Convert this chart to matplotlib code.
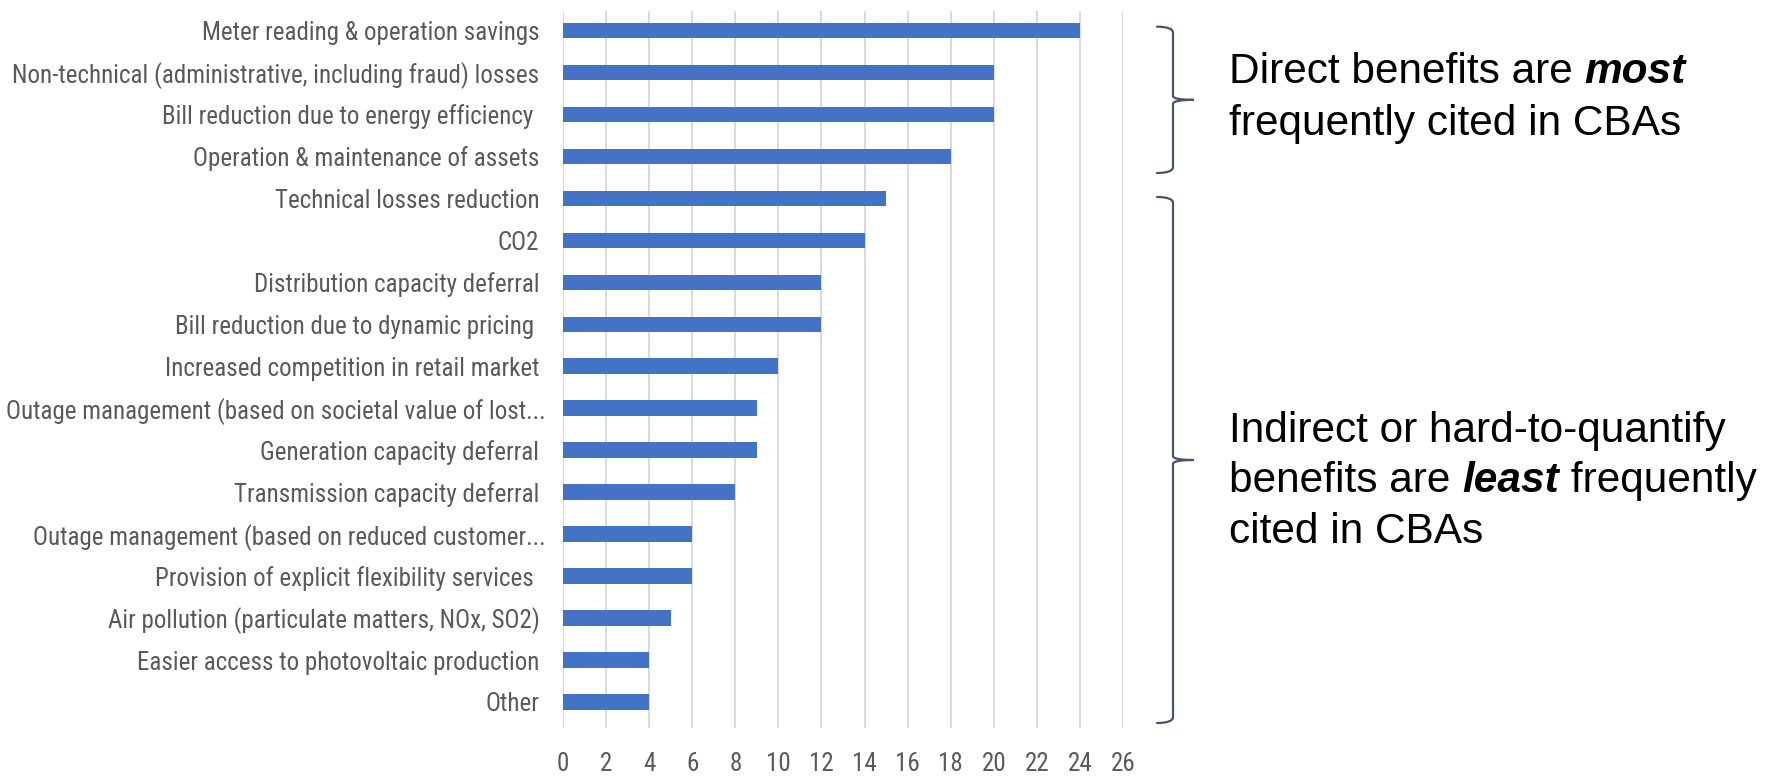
import matplotlib
matplotlib.use('Agg')
import matplotlib.pyplot as plt
from matplotlib import font_manager
from matplotlib.path import Path
from matplotlib.patches import PathPatch
from matplotlib.transforms import ScaledTranslation

# ============================================================
# Data
# ============================================================
categories = [
    'Meter reading & operation savings',
    'Non-technical (administrative, including fraud) losses',
    'Bill reduction due to energy efficiency ',
    'Operation & maintenance of assets',
    'Technical losses reduction',
    'CO2',
    'Distribution capacity deferral',
    'Bill reduction due to dynamic pricing ',
    'Increased competition in retail market',
    'Outage management (based on societal value of lost...',
    'Generation capacity deferral',
    'Transmission capacity deferral',
    'Outage management (based on reduced customer...',
    'Provision of explicit flexibility services ',
    'Air pollution (particulate matters, NOx, SO2)',
    'Easier access to photovoltaic production',
    'Other',
]
counts = [24, 20, 20, 18, 15, 14, 12, 12, 10, 9, 9, 8, 6, 6, 5, 4, 4]
x_ticks = list(range(0, 27, 2))

bar_color = '#4472C4'
grid_color = '#D9D9D9'
label_color = '#595959'
brace_color = '#44546A'

# narrow font for the Excel-like labels
names = {f.name for f in font_manager.fontManager.ttflist}
label_font = 'Roboto Condensed' if 'Roboto Condensed' in names else 'Lato'

W, H = 1780, 776
fig = plt.figure(figsize=(W / 100, H / 100), dpi=100)

# main bar chart
ax_l, ax_r = 563 / W, 1123 / W
ax_t, ax_b = 1 - 10.5 / H, 1 - 728 / H
ax = fig.add_axes([ax_l, ax_b, ax_r - ax_l, ax_t - ax_b])

y = list(range(len(categories)))
ax.barh(y, counts, height=0.37, color=bar_color, zorder=3)
ax.set_ylim(16.62, -0.477)
ax.set_xlim(0, 26)
ax.set_xticks(x_ticks)
ax.set_yticks(y)
ax.set_yticklabels(categories, fontsize=18, color=label_color, family=label_font)
ax.set_xticklabels([str(v) for v in x_ticks], fontsize=18, color=label_color,
                   family=label_font)
ax.tick_params(axis='y', length=0, pad=17)
ax.tick_params(axis='x', length=0, pad=17)
ax.grid(axis='x', color=grid_color, linewidth=1.4, zorder=0)
ax.set_axisbelow(True)
for s in ax.spines.values():
    s.set_visible(False)

# truncated labels sit a little closer to the axis, as in Excel
for lbl in ax.get_yticklabels():
    if lbl.get_text().endswith('...'):
        lbl.set_transform(lbl.get_transform() +
                          ScaledTranslation(0.06, 0, fig.dpi_scale_trans))

# overlay in pixel coordinates for braces and notes
ov = fig.add_axes([0, 0, 1, 1], zorder=5)
ov.set_xlim(0, W)
ov.set_ylim(H, 0)
ov.axis('off')


def brace(top, bot, x0=1157, xv=1173, xt=1193):
    mid = (top + bot) / 2
    verts = [(x0, top), (xv, top), (xv, top + 6),
             (xv, mid - 4), (xv, mid), (xt, mid),
             (xt, mid), (xv, mid), (xv, mid + 4),
             (xv, bot - 6), (xv, bot), (x0, bot)]
    codes = [Path.MOVETO, Path.CURVE3, Path.CURVE3,
             Path.LINETO, Path.CURVE3, Path.CURVE3,
             Path.MOVETO, Path.CURVE3, Path.CURVE3,
             Path.LINETO, Path.CURVE3, Path.CURVE3]
    ov.add_patch(PathPatch(Path(verts, codes), fill=False, edgecolor=brace_color,
                           linewidth=1.6, capstyle='round'))


brace(26.7, 173)
brace(197, 723)

note_font = 'Liberation Sans'
note_size = 30.5


def rich_line(parts, x, yb):
    t = ov.text(x, yb, parts[0][0], fontsize=note_size, family=note_font,
                va='baseline', ha='left', fontweight=parts[0][1],
                fontstyle=parts[0][2])
    for s, wt, st in parts[1:]:
        t = ov.annotate(s, xy=(1, yb), xycoords=(t, 'data'), va='baseline',
                        ha='left', fontsize=note_size, family=note_font,
                        fontweight=wt, fontstyle=st)


rich_line([('Direct benefits are ', 'normal', 'normal'),
           ('most', 'bold', 'italic')], 1229, 83)
rich_line([('frequently cited in CBAs', 'normal', 'normal')], 1229, 135)
rich_line([('Indirect or hard-to-quantify', 'normal', 'normal')], 1229, 441.7)
rich_line([('benefits are ', 'normal', 'normal'), ('least', 'bold', 'italic'),
           (' frequently', 'normal', 'normal')], 1229, 492)
rich_line([('cited in CBAs', 'normal', 'normal')], 1229, 543)

fig.savefig('out.png', dpi=100)
